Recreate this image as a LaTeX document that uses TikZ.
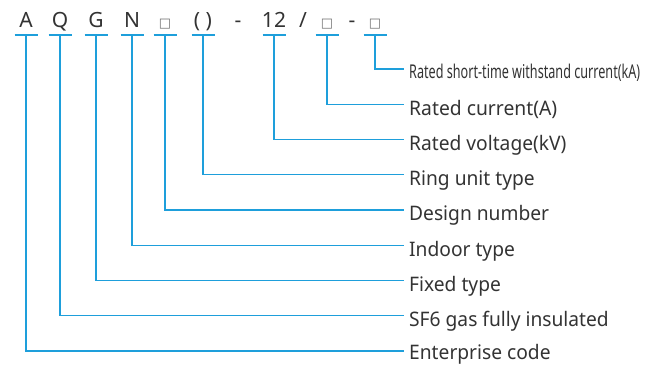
\documentclass[tikz,border=0pt]{standalone}
\usepackage{fontspec}
\setmainfont{Noto Sans}
\newfontfamily\boxfont{DejaVu Sans}
\usepackage{graphicx}
\definecolor{lineblue}{HTML}{1E9FDB}
\definecolor{txt}{HTML}{333333}
\definecolor{boxgray}{HTML}{707070}
\newcommand{\labtxt}[1]{\scalebox{0.96}[1]{#1}}
\begin{document}
\begin{tikzpicture}[x=1pt,y=-1pt,
  code/.style={font=\fontsize{21}{21}\selectfont, text=txt, anchor=base, inner sep=0},
  boxc/.style={font=\boxfont\fontsize{13}{13}\selectfont, text=boxgray, anchor=base, inner sep=0},
  lab/.style={font=\fontsize{20}{20}\selectfont, text=txt, anchor=base west, inner sep=0},
  conn/.style={draw=lineblue, line width=1.3pt}]
\useasboundingbox (0,0) rectangle (655,365);
% code characters
\node[code] (cA) at (26,27) {A};
\node[code] (cQ) at (60,27) {Q};
\node[code] (cG) at (96,27) {G};
\node[code] (cN) at (132,27) {N};
\node[boxc] (cD) at (165,27) {□};
\node[code] (cR) at (203,27) {( )};
\node[code] (h1) at (238,27) {-};
\node[code] (cV) at (274,27) {12};
\node[code] (sl) at (303,27) {/};
\node[boxc] (cI) at (327,27) {□};
\node[code] (h2) at (352,27) {-};
\node[boxc] (cK) at (375,27) {□};
% bar anchor points
\foreach \n/\x in {A/26,Q/60,G/96,N/132,D/165,R/203,V/274,I/327,K/375}{
  \coordinate (b\n) at (\x,35);
  \draw[conn] ([xshift=-11.5pt]b\n) -- ([xshift=11.5pt]b\n);
}
% line end points
\coordinate (eK) at (404,69);
\coordinate (eI) at (404,104.25);
\coordinate (eV) at (404,139.5);
\coordinate (eR) at (404,174.75);
\coordinate (eD) at (404,210);
\coordinate (eN) at (404,245.25);
\coordinate (eG) at (404,280.5);
\coordinate (eQ) at (404,315.75);
\coordinate (eA) at (404,351);
% labels
\node[lab, font=\fontsize{19}{19}\selectfont] (lK) at (409,78.5) {\resizebox{231pt}{\height}{Rated short-time withstand current(kA)}};
\node[lab] (lI) at (409,115) {\resizebox{148pt}{\height}{Rated current(A)}};
\node[lab] (lV) at (409,150.5) {\labtxt{Rated voltage(kV)}};
\node[lab] (lR) at (409,185.5) {\labtxt{Ring unit type}};
\node[lab] (lD) at (409,220.5) {\labtxt{Design number}};
\node[lab] (lN) at (409,256) {\labtxt{Indoor type}};
\node[lab] (lG) at (409,291) {\labtxt{Fixed type}};
\node[lab] (lQ) at (409,326) {\labtxt{SF6 gas fully insulated}};
\node[lab] (lA) at (409,359.5) {\labtxt{Enterprise code}};
% connectors
\foreach \n in {A,Q,G,N,D,R,V,I,K}{
  \draw[conn] (b\n) |- (e\n);
}
\end{tikzpicture}
\end{document}
